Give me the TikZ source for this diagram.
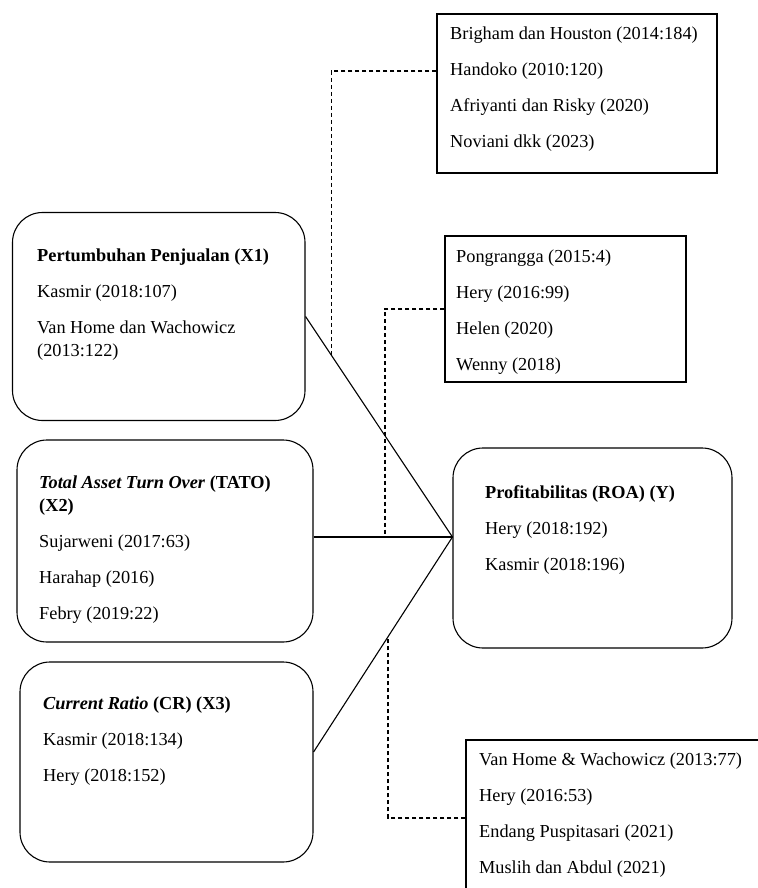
\documentclass[tikz,border=0pt]{standalone}
\usepackage{fontspec}
\setmainfont{Liberation Serif}
\usepackage{tikz}
\usetikzlibrary{calc}
\tikzstyle{varbox}=[draw, line width=1.1pt, rounded corners=30pt, inner sep=0pt]
\tikzstyle{refbox}=[draw, line width=1.1pt, inner sep=0pt]
\tikzstyle{txt}=[anchor=north west, inner sep=0pt, align=left, font=\fontsize{18.3}{23}\selectfont]
\tikzstyle{link}=[draw=black, line width=1.1pt]
\tikzstyle{dashlink}=[draw=black, line width=1.1pt, dash pattern=on 4pt off 3pt]

\begin{document}
\begin{tikzpicture}[x=1pt, y=-1pt]
		   \useasboundingbox (0,0) rectangle (757,888);
		   \begin{scope}
			   % reference boxes
			   \node (A) at (577, 93.5)[refbox, minimum width=280, minimum height=159] {};
			   \node (B) at (565.5, 309)[refbox, minimum width=241, minimum height=146] {};
			   \node (C) at (621, 818)[refbox, minimum width=310, minimum height=156] {};
			   % variable boxes
			   \node (X1) at (158.75, 316.5)[varbox, minimum width=292.5, minimum height=208] {};
			   \node (X2) at (165, 541)[varbox, minimum width=296, minimum height=202] {};
			   \node (X3) at (166.5, 762)[varbox, minimum width=293, minimum height=200] {};
			   \node (Y) at (592.5, 548)[varbox, minimum width=279, minimum height=200] {};
		   \end{scope}
		   \begin{scope}
			   \node (At) at (450, 27)[txt] {Brigham dan Houston (2014:184)\\[13pt]Handoko (2010:120)\\[13pt]Afriyanti dan Risky (2020)\\[13pt]Noviani dkk (2023)};
			   \node (Bt) at (456, 249.5)[txt] {Pongrangga (2015:4)\\[13pt]Hery (2016:99)\\[13pt]Helen (2020)\\[13pt]Wenny (2018)};
			   \node (Ct) at (479, 752.5)[txt] {Van Home \& Wachowicz (2013:77)\\[13pt]Hery (2016:53)\\[13pt]Endang Puspitasari (2021)\\[13pt]Muslih dan Abdul (2021)};
			   \node (X1t) at (37, 249)[txt] {\textbf{Pertumbuhan Penjualan (X1)}\\[13pt]Kasmir (2018:107)\\[13pt]Van Home dan Wachowicz\\(2013:122)};
			   \node (X2t) at (39, 475.5)[txt] {\textbf{\textit{Total Asset Turn Over} (TATO)}\\\textbf{(X2)}\\[13pt]Sujarweni (2017:63)\\[13pt]Harahap (2016)\\[13pt]Febry (2019:22)};
			   \node (X3t) at (43, 696.5)[txt] {\textbf{\textit{Current Ratio} (CR) (X3)}\\[13pt]Kasmir (2018:134)\\[13pt]Hery (2018:152)};
			   \node (Yt) at (485, 485.5)[txt] {\textbf{Profitabilitas (ROA) (Y)}\\[13pt]Hery (2018:192)\\[13pt]Kasmir (2018:196)};
		   \end{scope}
		   \begin{scope}
			   \coordinate (yin) at ([yshift=11pt]Y.west);
			   \coordinate (x2e) at (yin -| X2.east);
			   \coordinate (x3e) at ([yshift=10pt]X3.east);
			   \coordinate (a1) at ([yshift=22.5pt]A.west);
			   \coordinate (d1) at ($(X1.east)!0.176!(yin)$);
			   \coordinate (d2) at ($(x2e)!0.514!(yin)$);
			   \coordinate (d3) at ($(x3e)!0.536!(yin)$);
			   \path [link] (X1.east) -- (yin);
			   \path [link] (x2e) -- (yin);
			   \path [link] (x3e) -- (yin);
			   \path [dashlink] (a1) -| (d1);
			   \path [dashlink] (B.west) -| (d2);
			   \path [dashlink] (C.west) -| (d3);
		   \end{scope}
	   \end{tikzpicture}
\end{document}
